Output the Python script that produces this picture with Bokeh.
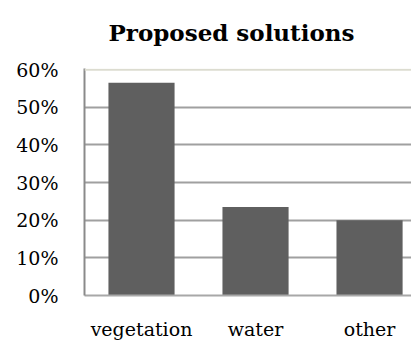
from bokeh.plotting import figure
from bokeh.models import Span, NumeralTickFormatter, FixedTicker, Range1d, Title
from bokeh.embed import file_html
from bokeh.resources import INLINE

categories = ["vegetation", "water", "other"]
values = [0.565, 0.235, 0.200]
y_ticks = [0, 0.1, 0.2, 0.3, 0.4, 0.5, 0.6]
title_text = "Proposed solutions"

xs = [i + 0.5 for i in range(len(categories))]

p = figure(width=411, height=342, output_backend="svg", toolbar_location=None,
           x_range=Range1d(0, 2.868), y_range=Range1d(0, 0.603),
           min_border_left=84, min_border_right=0, min_border_top=68, min_border_bottom=0)
p.outline_line_color = None

spacer = Title(text=" ", text_font_size="6px", text_line_height=1.0)
p.add_layout(spacer, "above")
main_title = Title(text=title_text, align="left", offset=24,
                   text_font="DejaVu Serif", text_font_style="bold",
                   text_font_size="23px", text_color="#000000", text_line_height=1.0)
p.add_layout(main_title, "above")

p.vbar(x=xs, top=values, width=0.58, fill_color="#5f5f5f", line_color=None)

p.yaxis.ticker = FixedTicker(ticks=y_ticks)
p.yaxis.formatter = NumeralTickFormatter(format="0%")
p.yaxis.major_label_text_font = "DejaVu Serif"
p.yaxis.major_label_text_font_size = "19px"
p.yaxis.major_label_text_color = "#000000"
p.yaxis.major_tick_line_color = None
p.yaxis.minor_tick_line_color = None
p.yaxis.axis_line_color = "#8a8a8a"
p.yaxis.axis_line_width = 2
p.yaxis.major_label_standoff = 20

p.xaxis.ticker = FixedTicker(ticks=xs)
p.xaxis.major_label_overrides = {x: c for x, c in zip(xs, categories)}
p.xaxis.major_label_text_font = "DejaVu Serif"
p.xaxis.major_label_text_font_size = "19px"
p.xaxis.major_label_text_color = "#000000"
p.xaxis.major_tick_line_color = None
p.xaxis.minor_tick_line_color = None
p.xaxis.axis_line_color = "#a8a8a8"
p.xaxis.axis_line_width = 2
p.xaxis.major_label_standoff = 16

p.xgrid.grid_line_color = None
p.ygrid.ticker = FixedTicker(ticks=y_ticks[1:-1])
p.ygrid.grid_line_color = "#a0a0a0"
p.ygrid.grid_line_width = 2
p.ygrid.level = "underlay"

p.add_layout(Span(location=0.6, dimension="width", line_color="#dcdcd0", line_width=2))

open("out.html", "w").write(file_html(p, INLINE))
